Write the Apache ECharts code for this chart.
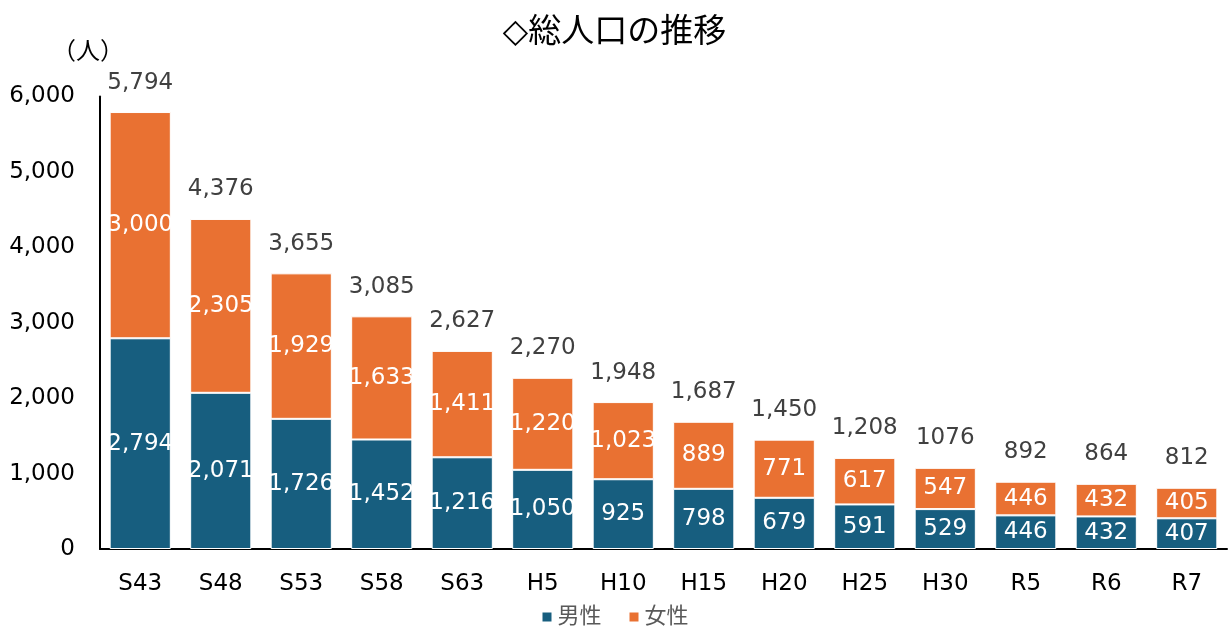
<!DOCTYPE html>
<html>
<head>
<meta charset="utf-8">
<script src="https://cdn.jsdelivr.net/npm/echarts@6/dist/echarts.min.js"></script>
<style>
  html, body { margin: 0; padding: 0; background: #fff; }
  #main { width: 1229px; height: 629px; }
</style>
</head>
<body>
<div id="main"></div>
<script>
var categories = ['S43', 'S48', 'S53', 'S58', 'S63', 'H5', 'H10', 'H15', 'H20', 'H25', 'H30', 'R5', 'R6', 'R7'];
var maleValues = [2794, 2071, 1726, 1452, 1216, 1050, 925, 798, 679, 591, 529, 446, 432, 407];
var femaleValues = [3000, 2305, 1929, 1633, 1411, 1220, 1023, 889, 771, 617, 547, 446, 432, 405];
var totalLabels = ['5,794', '4,376', '3,655', '3,085', '2,627', '2,270', '1,948', '1,687', '1,450', '1,208', '1076', '892', '864', '812'];

var FONT = '"DejaVu Sans", "Noto Sans CJK JP", sans-serif';

var myChart = echarts.init(document.getElementById('main'));

function fmt(v) {
    return v.toLocaleString('en-US');
}

var option = {
    animation: false,
    textStyle: { fontFamily: FONT },
    title: {
        text: '◇総人口の推移',
        left: 'center',
        top: 12,
        textStyle: { fontSize: 33, fontWeight: 'normal', color: '#000', fontFamily: FONT }
    },
    legend: {
        data: ['男性', '女性'],
        bottom: -4,
        left: 'center',
        itemWidth: 11,
        itemHeight: 11,
        itemGap: 26,
        icon: 'rect',
        textStyle: { fontSize: 22, color: '#595959', fontFamily: FONT }
    },
    graphic: [{
        type: 'text',
        left: 52,
        top: 41,
        style: { text: '（人）', fill: '#000', font: '24px ' + FONT }
    }],
    grid: {
        left: 100,
        right: 2,
        top: 96.5,
        bottom: 80,
        containLabel: false
    },
    xAxis: {
        type: 'category',
        data: categories,
        axisLine: { lineStyle: { color: '#000', width: 2 } },
        axisTick: { show: false },
        axisLabel: { color: '#000', fontSize: 23, margin: 24, fontFamily: FONT }
    },
    yAxis: {
        type: 'value',
        min: 0,
        max: 6000,
        interval: 1000,
        axisLine: { show: true, lineStyle: { color: '#000', width: 2 } },
        axisTick: { show: false },
        splitLine: { show: false },
        axisLabel: {
            color: '#000', fontSize: 23, margin: 25, fontFamily: FONT,
            formatter: function (v) { return fmt(v); }
        }
    },
    series: [
        {
            name: '男性',
            type: 'bar',
            stack: 'total',
            barCategoryGap: '24%',
            itemStyle: { color: '#175e7f', borderColor: '#fff', borderWidth: 1 },
            label: {
                show: true, position: 'inside', color: '#fff', fontSize: 23, fontFamily: FONT,
                formatter: function (p) { return fmt(p.value); }
            },
            data: maleValues
        },
        {
            name: '女性',
            type: 'bar',
            stack: 'total',
            itemStyle: { color: '#e97132', borderColor: '#fff', borderWidth: 1 },
            label: {
                show: true, position: 'inside', color: '#fff', fontSize: 23, fontFamily: FONT,
                formatter: function (p) { return fmt(p.value); }
            },
            data: femaleValues
        },
        {
            name: '合計',
            type: 'bar',
            stack: 'total',
            itemStyle: { color: 'transparent' },
            label: {
                show: true, position: 'top', distance: 18, color: '#404040', fontSize: 23, fontFamily: FONT,
                formatter: function (p) { return totalLabels[p.dataIndex]; }
            },
            data: categories.map(function () { return 0; })
        }
    ]
};

myChart.setOption(option);
</script>
</body>
</html>
